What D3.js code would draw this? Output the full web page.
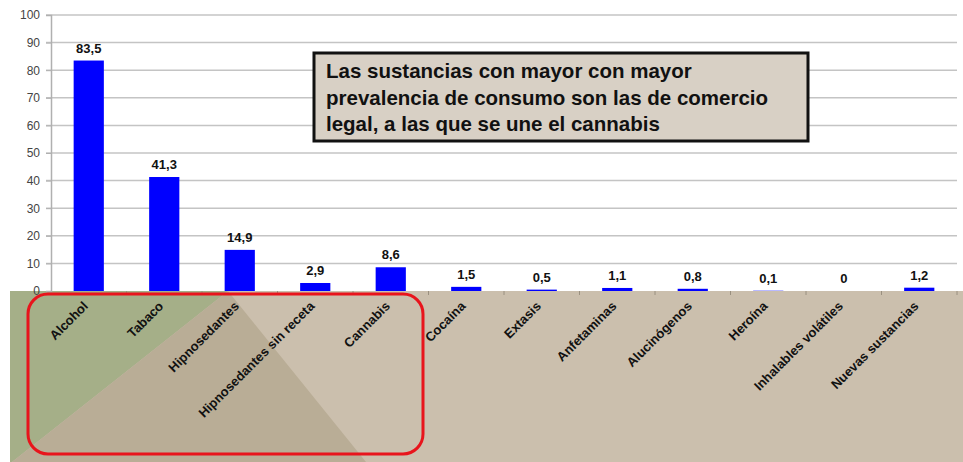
<!DOCTYPE html>
<html>
<head>
<meta charset="utf-8">
<script src="https://cdn.jsdelivr.net/npm/d3@7"></script>
<style>
  body { margin: 0; background: #fff; }
  svg { display: block; font-family: "Liberation Sans", Arial, sans-serif; }
</style>
</head>
<body>
<div id="chart"></div>
<script>
// data
var categories = ["Alcohol", "Tabaco", "Hipnosedantes", "Hipnosedantes sin receta", "Cannabis",
  "Cocaína", "Extasis", "Anfetaminas", "Alucinógenos", "Heroína", "Inhalables volátiles", "Nuevas sustancias"];
var values = [83.5, 41.3, 14.9, 2.9, 8.6, 1.5, 0.5, 1.1, 0.8, 0.1, 0, 1.2];
var yTicks = [0, 10, 20, 30, 40, 50, 60, 70, 80, 90, 100];
var noteLines = [
  "Las sustancias con mayor con mayor",
  "prevalencia de consumo son las de comercio",
  "legal, a las que se une el cannabis"
];

var width = 963, height = 462;
var margin = { top: 15, right: 6, bottom: 171, left: 51 };

var svg = d3.select("#chart").append("svg")
  .attr("width", width)
  .attr("height", height);

var y = d3.scaleLinear()
  .domain([0, 100])
  .range([height - margin.bottom, margin.top]);

var x = d3.scaleBand()
  .domain(categories)
  .range([margin.left, width - margin.right])
  .paddingInner(0.6)
  .paddingOuter(0.3);

var xOuter = d3.scaleBand()
  .domain(categories)
  .range([margin.left, width - margin.right]);

var y0 = y(0);

// background of the label area (slide decoration)
svg.append("rect")
  .attr("x", 10).attr("y", y0)
  .attr("width", width - 10).attr("height", height - y0)
  .attr("fill", "#cbbfad");
svg.append("path")
  .attr("d", "M10," + y0 + "L228," + y0 + "L12," + height + "L10," + height + "Z")
  .attr("fill", "#a5af88");
svg.append("path")
  .attr("d", "M228," + y0 + "L366," + height + "L12," + height + "Z")
  .attr("fill", "#b9ad96");

// grid lines
svg.append("g")
  .selectAll("line")
  .data(yTicks.filter(function (d) { return d > 0; }))
  .join("line")
  .attr("x1", margin.left - 5)
  .attr("x2", width - margin.right)
  .attr("y1", function (d) { return y(d); })
  .attr("y2", function (d) { return y(d); })
  .attr("stroke", "#c4c4c4")
  .attr("stroke-width", 1.5);

// y axis
var yAxis = svg.append("g")
  .attr("transform", "translate(" + margin.left + ",0)")
  .call(d3.axisLeft(y).tickValues(yTicks).tickSize(5).tickPadding(6));
yAxis.select(".domain").attr("stroke", "#b0b0b0").attr("stroke-width", 1.5);
yAxis.selectAll(".tick line").attr("stroke", "#b0b0b0");
yAxis.selectAll(".tick text")
  .attr("font-size", 12)
  .attr("font-family", "Liberation Sans, Arial, sans-serif")
  .attr("fill", "#444");

// category boundary ticks
svg.append("g")
  .selectAll("line")
  .data(categories)
  .join("line")
  .attr("x1", function (d) { return xOuter(d) + xOuter.bandwidth(); })
  .attr("x2", function (d) { return xOuter(d) + xOuter.bandwidth(); })
  .attr("y1", y0)
  .attr("y2", y0 + 4)
  .attr("stroke", "#9a9080");

// bars
svg.append("g")
  .selectAll("rect")
  .data(values)
  .join("rect")
  .attr("x", function (d, i) { return x(categories[i]); })
  .attr("y", function (d) { return y(d); })
  .attr("width", x.bandwidth())
  .attr("height", function (d) { return y0 - y(d); })
  .attr("fill", "#0000ff");

// value labels
svg.append("g")
  .selectAll("text")
  .data(values)
  .join("text")
  .attr("x", function (d, i) { return x(categories[i]) + x.bandwidth() / 2; })
  .attr("y", function (d) { return y(d) - 8; })
  .attr("text-anchor", "middle")
  .attr("font-size", 13)
  .attr("font-weight", "bold")
  .attr("fill", "#111")
  .text(function (d) { return String(d).replace(".", ","); });

// category labels
svg.append("g")
  .selectAll("text")
  .data(categories)
  .join("text")
  .attr("transform", function (d) {
    return "translate(" + (x(d) + x.bandwidth() / 2) + "," + (y0 + 16) + ") rotate(-45)";
  })
  .attr("text-anchor", "end")
  .attr("font-size", 13)
  .attr("font-weight", "bold")
  .attr("fill", "#111")
  .text(function (d) { return d; });

// red highlight
svg.append("rect")
  .attr("x", 28).attr("y", y0 + 3)
  .attr("width", 395).attr("height", 160)
  .attr("rx", 20)
  .attr("fill", "none")
  .attr("stroke", "#e8141c")
  .attr("stroke-width", 3);

// note box
var note = svg.append("g");
note.append("rect")
  .attr("x", 314).attr("y", 53)
  .attr("width", 494).attr("height", 88)
  .attr("fill", "#d8d0c5")
  .attr("stroke", "#111")
  .attr("stroke-width", 3);
note.selectAll("text")
  .data(noteLines)
  .join("text")
  .attr("x", 326)
  .attr("y", function (d, i) { return 78 + i * 26.5; })
  .attr("font-size", 20.5)
  .attr("font-weight", "bold")
  .attr("fill", "#111")
  .text(function (d) { return d; });
</script>
</body>
</html>
